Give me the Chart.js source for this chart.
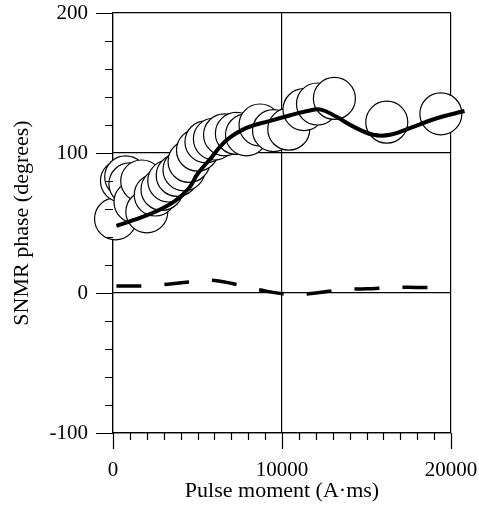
<!DOCTYPE html>
<html>
<head>
<meta charset="utf-8">
<script src="https://cdn.jsdelivr.net/npm/chart.js"></script>
<style>
  html, body { margin: 0; padding: 0; background: #fff; }
</style>
</head>
<body>
<canvas id="myChart" width="479" height="508"></canvas>
<script>
// measured phases (open circles)
const phaseX = [150, 500, 750, 1000, 1300, 1700, 2000, 2500, 2900, 3300, 3800, 4200, 4500, 5000, 5500, 6000, 6600, 7300, 7900, 8700, 9500, 10400, 11300, 12100, 13100, 16200, 19400];
const phaseY = [53, 80, 83, 78, 65, 80, 58, 70, 74, 80, 84, 88, 94, 102, 108, 110, 113, 114, 113, 120, 116, 117, 131, 135, 139, 122, 128];

// solid model curve
const fitX = [200, 1200, 2500, 3700, 4500, 5000, 5700, 6700, 7900, 9300, 10500, 11500, 12300, 13200, 14200, 15400, 16400, 17600, 19200, 20800];
const fitY = [48, 52, 58, 66, 75, 85, 95, 109, 118, 123, 127, 130, 131, 126, 119, 113, 113, 118, 125, 130];

// dashed curve
const dashX = [200, 1700, 3000, 4600, 6000, 7700, 9000, 10500, 12000, 13600, 15000, 16600, 18000, 19700];
const dashY = [5, 5, 6, 8, 9, 5, 1.5, -1, 0, 2.5, 3, 4, 4, 4];

const serif = "'Liberation Serif', 'DejaVu Serif', serif";

function pts(xs, ys) {
  return xs.map((x, i) => ({x: x, y: ys[i]}));
}

// short minor ticks, long major ticks, drawn off the scales
const tickMarks = {
  id: 'tickMarks',
  afterDraw(chart) {
    const ctx = chart.ctx;
    const area = chart.chartArea;
    const xs = chart.scales.x, ys = chart.scales.y;
    ctx.save();
    ctx.strokeStyle = '#000';
    ctx.lineWidth = 1.2;
    ctx.beginPath();
    ys.ticks.forEach(t => {
      const py = Math.round(ys.getPixelForValue(t.value)) + 0.5;
      const len = t.value % 100 === 0 ? 17 : 8;
      ctx.moveTo(area.left - len, py);
      ctx.lineTo(area.left, py);
    });
    xs.ticks.forEach(t => {
      const px = Math.round(xs.getPixelForValue(t.value)) + 0.5;
      const len = t.value % 10000 === 0 ? 16 : 7;
      ctx.moveTo(px, area.bottom);
      ctx.lineTo(px, area.bottom + len);
    });
    ctx.stroke();
    ctx.restore();
  }
};

new Chart('myChart', {
  type: 'scatter',
  data: {
    datasets: [
      {
        label: 'fit',
        type: 'line',
        data: pts(fitX, fitY),
        borderColor: '#000',
        borderWidth: 4,
        pointRadius: 0,
        tension: 0.4,
        fill: false,
        clip: false,
        order: 1
      },
      {
        label: 'dash',
        type: 'line',
        data: pts(dashX, dashY),
        borderColor: '#000',
        borderWidth: 3.5,
        borderDash: [25, 23],
        pointRadius: 0,
        tension: 0.4,
        fill: false,
        clip: false,
        order: 1
      },
      {
        label: 'phase',
        data: pts(phaseX, phaseY),
        backgroundColor: '#fff',
        borderColor: '#000',
        borderWidth: 1.2,
        pointRadius: 21,
        pointHoverRadius: 21,
        clip: false,
        order: 2
      }
    ]
  },
  options: {
    responsive: false,
    animation: false,
    events: [],
    layout: { autoPadding: false, padding: { left: 0, right: 28, top: 13, bottom: 0 } },
    plugins: { legend: { display: false }, tooltip: { enabled: false } },
    scales: {
      x: {
        type: 'linear',
        min: 0,
        max: 20000,
        afterFit(scale) {
          scale.height = 75;
          scale.paddingLeft = 0;
          scale.paddingRight = 0;
        },
        border: { color: '#000', width: 1.2 },
        grid: {
          drawTicks: false,
          lineWidth: 1.2,
          color: c => (c.tick && c.tick.value % 10000 === 0) ? '#000' : 'rgba(0,0,0,0)'
        },
        ticks: {
          stepSize: 1000,
          autoSkip: false,
          maxRotation: 0,
          padding: 25,
          color: '#000',
          font: { family: serif, size: 21 },
          callback: v => v % 10000 === 0 ? String(v) : ''
        },
        title: {
          display: true,
          text: 'Pulse moment (A·ms)',
          color: '#000',
          font: { family: serif, size: 22 },
          padding: { top: 0, bottom: 4 }
        }
      },
      y: {
        type: 'linear',
        min: -100,
        max: 200,
        afterFit(scale) {
          scale.width = 113;
          scale.paddingTop = 0;
          scale.paddingBottom = 0;
        },
        border: { color: '#000', width: 1.2 },
        grid: {
          drawTicks: false,
          lineWidth: 1.2,
          color: c => (c.tick && c.tick.value % 100 === 0) ? '#000' : 'rgba(0,0,0,0)'
        },
        ticks: {
          stepSize: 20,
          autoSkip: false,
          padding: 25,
          color: '#000',
          font: { family: serif, size: 21 },
          callback: v => v % 100 === 0 ? String(v) : ''
        },
        title: {
          display: true,
          text: 'SNMR phase (degrees)',
          color: '#000',
          font: { family: serif, size: 22 },
          padding: { top: 9, bottom: 0 }
        }
      }
    }
  },
  plugins: [tickMarks]
});
</script>
</body>
</html>
